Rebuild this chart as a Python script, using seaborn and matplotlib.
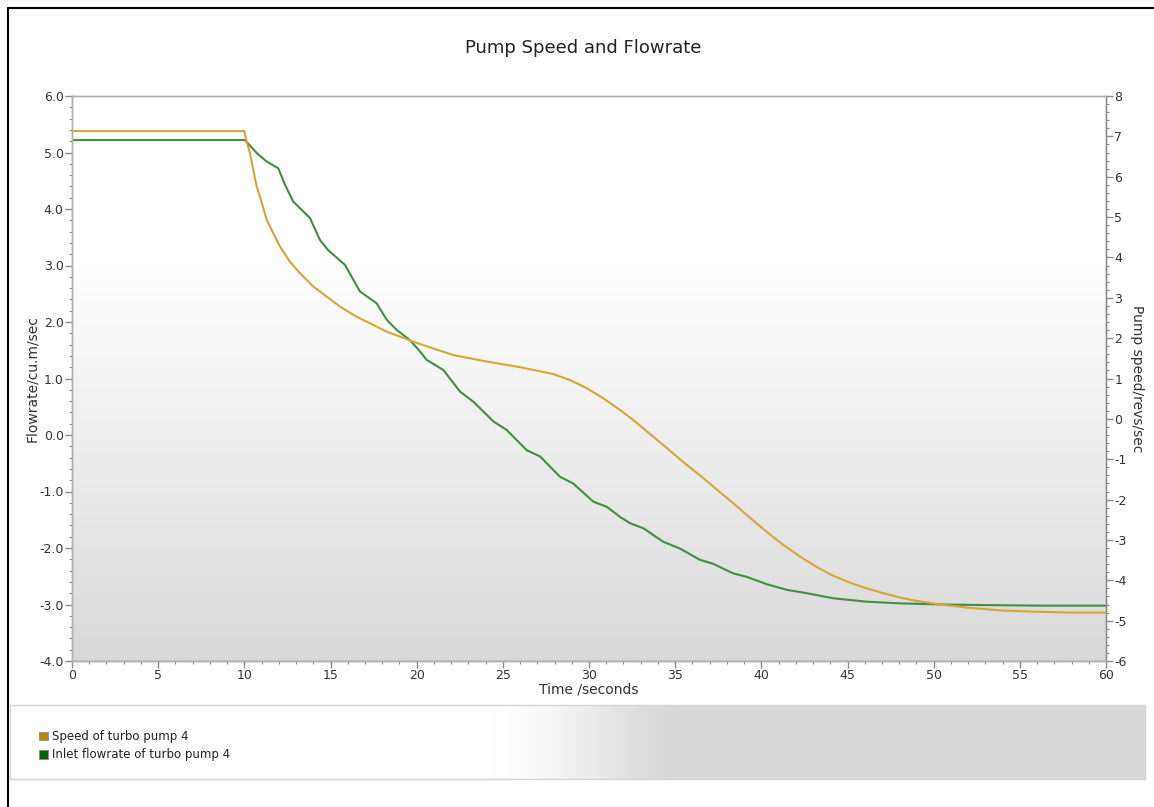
import numpy as np
import pandas as pd
import matplotlib
matplotlib.use("Agg")
import matplotlib.pyplot as plt
from matplotlib.lines import Line2D
from matplotlib.patches import Patch
from matplotlib.ticker import MultipleLocator, FormatStrFormatter
import seaborn as sns

# ---- data -------------------------------------------------------------
# Speed of turbo pump 4 (revs/sec, right axis)
speed_time = [0, 10, 10.13, 10.33, 10.52, 10.72, 10.91, 11.30, 11.68, 12.07,
              12.65, 13.23, 14.0, 14.78, 15.55, 16.52, 17.48, 18.26, 19.03,
              19.81, 21.0, 22.13, 24.06, 26.0, 27.93, 28.9, 29.87, 30.83,
              31.8, 32.57, 33.5, 34.51, 35.47, 36.44, 37.41, 38.37, 39.34,
              40.31, 41.27, 42.24, 43.21, 44.18, 45.15, 46.11, 47.08, 48.05,
              49.0, 50.4, 52.0, 54.0, 56.0, 58.0, 60]
speed = [7.13, 7.13, 6.87, 6.59, 6.17, 5.75, 5.50, 4.93, 4.60, 4.27,
         3.89, 3.61, 3.28, 3.03, 2.78, 2.53, 2.33, 2.16, 2.04,
         1.91, 1.74, 1.58, 1.42, 1.28, 1.11, 0.96, 0.76, 0.51,
         0.22, -0.03, -0.36, -0.72, -1.07, -1.40, -1.75, -2.09, -2.45,
         -2.80, -3.12, -3.41, -3.67, -3.89, -4.06, -4.20, -4.32, -4.43,
         -4.51, -4.60, -4.68, -4.75, -4.78, -4.80, -4.80]

# Inlet flowrate of turbo pump 4 (cu.m/sec, left axis)
flow_time = [0, 10.04, 10.72, 11.30, 11.97, 12.36, 12.84, 13.81, 14.39, 14.87,
             15.84, 16.23, 16.71, 17.68, 18.26, 18.84, 19.61, 20.19, 20.58,
             21.55, 22.51, 23.29, 24.45, 25.22, 26.39, 27.16, 28.32, 29.09,
             30.25, 31.03, 31.80, 32.38, 33.15, 34.31, 35.28, 36.44, 37.21,
             38.37, 39.15, 40.31, 41.47, 42.63, 44.18, 46.11, 48.05, 50.5,
             53, 56, 60]
flow = [5.22, 5.22, 4.99, 4.84, 4.72, 4.43, 4.13, 3.84, 3.45, 3.27,
        3.01, 2.80, 2.54, 2.33, 2.04, 1.86, 1.68, 1.48, 1.33,
        1.15, 0.77, 0.59, 0.24, 0.09, -0.27, -0.38, -0.74, -0.86,
        -1.18, -1.27, -1.45, -1.56, -1.65, -1.89, -2.01, -2.21, -2.28,
        -2.45, -2.51, -2.64, -2.74, -2.80, -2.89, -2.95, -2.98, -3.00,
        -3.01, -3.02, -3.02]

series_names = ["Speed of turbo pump 4", "Inlet flowrate of turbo pump 4"]

# ---- style ------------------------------------------------------------
sns.set_theme(style="white")
plt.rcParams["font.family"] = ["DejaVu Sans"]
plt.rcParams["axes.unicode_minus"] = False

speed_line = "#d6a534"
flow_line = "#3f8f3f"
speed_swatch = "#b8860b"
flow_swatch = "#006400"
text_col = "#333333"
tick_col = "#8a8a8a"

W, H = 1154, 807
fig = plt.figure(figsize=(W / 100, H / 100), dpi=100)
fig.patch.set_facecolor("white")

# outer frame (left and top edge)
fig.add_artist(Line2D([7.5 / W, 7.5 / W], [1 - 7.5 / H, 0], color="black",
                      lw=1.5, transform=fig.transFigure))
fig.add_artist(Line2D([7.5 / W, 1], [1 - 7.5 / H, 1 - 7.5 / H], color="black",
                      lw=1.5, transform=fig.transFigure))

# main plot area
left, right, top, bottom = 72, 1106, 96, 661
ax = fig.add_axes([left / W, 1 - bottom / H, (right - left) / W, (bottom - top) / H])
ax2 = ax.twinx()

# vertical background shading: white at the top, light grey at the bottom
s = np.linspace(0, 1, 400)[:, None]
g = np.clip((s - 0.28) / 0.72, 0, 1) ** 1.05
shade = 1.0 - 0.15 * g
img = np.dstack([shade, shade, shade])
ax.imshow(img, extent=[0, 1, 0, 1], transform=ax.transAxes, aspect="auto",
          zorder=0, interpolation="bilinear")

df_flow = pd.DataFrame({"time": flow_time, "value": flow})
df_speed = pd.DataFrame({"time": speed_time, "value": speed})

sns.lineplot(data=df_flow, x="time", y="value", ax=ax, color=flow_line,
             lw=1.5, legend=False, zorder=3, sort=False)
sns.lineplot(data=df_speed, x="time", y="value", ax=ax2, color=speed_line,
             lw=1.5, legend=False, zorder=3, sort=False)
ax2.patch.set_visible(False)

ax.set_xlim(0, 60)
ax.set_ylim(-4, 6)
ax2.set_ylim(-6, 8)

ax.xaxis.set_major_locator(MultipleLocator(5))
ax.xaxis.set_minor_locator(MultipleLocator(1))
ax.yaxis.set_major_locator(MultipleLocator(1))
ax.yaxis.set_minor_locator(MultipleLocator(0.2))
ax.yaxis.set_major_formatter(FormatStrFormatter("%.1f"))
ax2.yaxis.set_major_locator(MultipleLocator(1))
ax2.yaxis.set_minor_locator(MultipleLocator(0.2))
ax2.yaxis.set_major_formatter(FormatStrFormatter("%d"))

for a in (ax, ax2):
    a.tick_params(which="major", length=5, width=1, color=tick_col,
                  labelsize=9, labelcolor=text_col, pad=1)
    a.tick_params(which="minor", length=2.5, width=0.8, color=tick_col)
    for sp in a.spines.values():
        sp.set_color("#b0b0b0")
        sp.set_linewidth(1)
ax.tick_params(axis="x", which="both", bottom=True, direction="out")
ax.tick_params(axis="y", which="both", left=True, direction="out")
ax2.tick_params(axis="y", which="both", right=True, direction="out")
ax.spines["left"].set_color("#8a8a8a")
ax.spines["bottom"].set_color("#8a8a8a")
ax2.spines["right"].set_color("#8a8a8a")

ax.set_xlabel("Time /seconds", fontsize=10, color=text_col, labelpad=0)
ax.set_ylabel("Flowrate/cu.m/sec", fontsize=10, color=text_col, labelpad=0)
ax2.set_ylabel("Pump speed/revs/sec", fontsize=10, color=text_col,
               rotation=270, labelpad=12)
ax.grid(False)
ax2.grid(False)

fig.text(583 / W, 1 - 48 / H, "Pump Speed and Flowrate", ha="center",
         va="center", fontsize=13, color="#222222")

# legend panel with horizontal shading
lx0, lx1, ly0, ly1 = 10, 1145, 705, 779
lax = fig.add_axes([lx0 / W, 1 - ly1 / H, (lx1 - lx0) / W, (ly1 - ly0) / H])
xs = np.linspace(0, 1, 600)[None, :]
px = lx0 + xs * (lx1 - lx0)
gl = np.clip((px - 490) / (690 - 490), 0, 1)
gl = gl * gl * (3 - 2 * gl)
lshade = 1.0 - 0.155 * gl
limg = np.dstack([lshade, lshade, lshade])
lax.imshow(limg, extent=[0, 1, 0, 1], aspect="auto", interpolation="bilinear")
lax.set_xlim(0, 1)
lax.set_ylim(0, 1)
lax.set_xticks([])
lax.set_yticks([])
for sp in lax.spines.values():
    sp.set_color("#d4d4d4")
    sp.set_linewidth(1)

handles = [Patch(facecolor=speed_swatch, edgecolor="#8a8a8a", lw=0.6),
           Patch(facecolor=flow_swatch, edgecolor="#8a8a8a", lw=0.6)]
leg = lax.legend(handles, series_names, loc="upper left",
                 bbox_to_anchor=(29 / (lx1 - lx0), 1 - 25 / (ly1 - ly0)),
                 frameon=False, fontsize=8.5, handlelength=0.75,
                 handleheight=0.75, handletextpad=0.35, labelspacing=0.45,
                 borderaxespad=0, borderpad=0)
for t in leg.get_texts():
    t.set_color("#222222")

fig.savefig("out.png", dpi=100)
